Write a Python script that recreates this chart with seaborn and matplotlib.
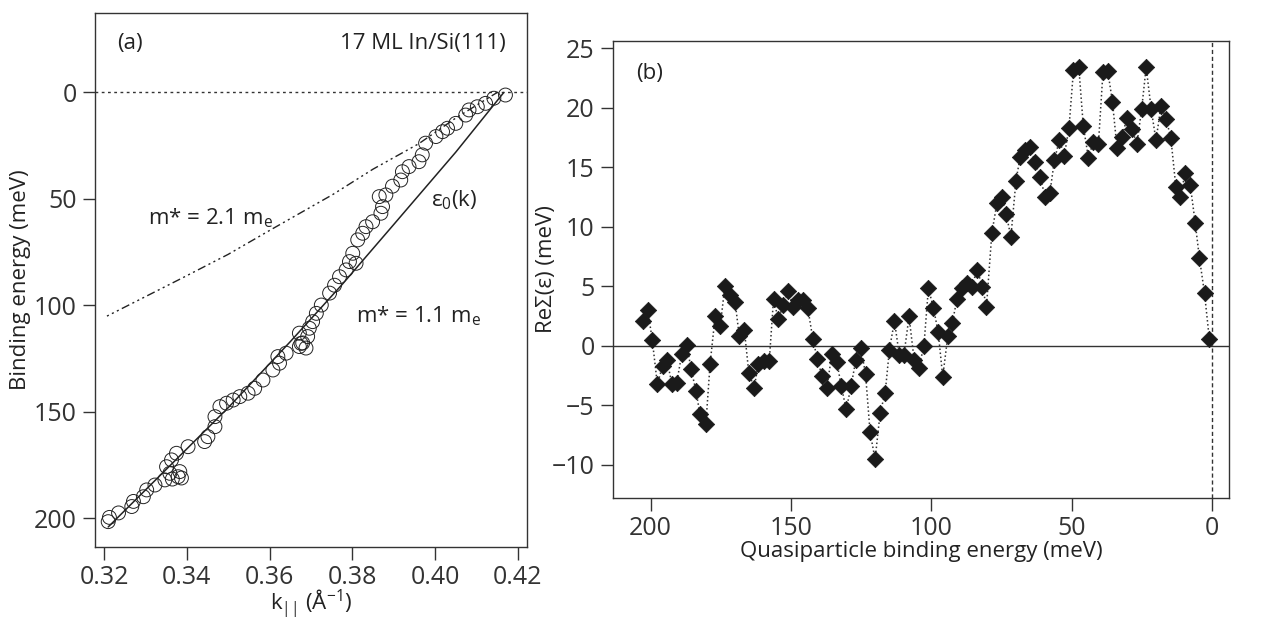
import numpy as np
import pandas as pd
import matplotlib
matplotlib.use("Agg")
import matplotlib.pyplot as plt
import seaborn as sns

# ---- panel (a): MDC peak positions, k (1/A) vs binding energy (meV)
k_peak = [0.3210, 0.3213, 0.3235, 0.3267, 0.3271, 0.3295, 0.3303, 0.3323, 0.3347, 0.3359,
          0.3351, 0.3363, 0.3375, 0.3379, 0.3365, 0.3383, 0.3387, 0.3403, 0.3443, 0.3451,
          0.3468, 0.3468, 0.3480, 0.3496, 0.3512, 0.3528, 0.3548, 0.3564, 0.3584, 0.3608,
          0.3624, 0.3620, 0.3640, 0.3672, 0.3676, 0.3692, 0.3672, 0.3680, 0.3688, 0.3696,
          0.3704, 0.3713, 0.3725, 0.3745, 0.3757, 0.3769, 0.3785, 0.3793, 0.3809, 0.3801,
          0.3813, 0.3825, 0.3833, 0.3849, 0.3869, 0.3873, 0.3865, 0.3881, 0.3897, 0.3917,
          0.3921, 0.3937, 0.3961, 0.3969, 0.3977, 0.4002, 0.4018, 0.4030, 0.4050, 0.4074,
          0.4082, 0.4102, 0.4122, 0.4142, 0.4170]
e_peak = [201.5, 199.5, 197.4, 194.4, 192.0, 189.8, 186.6, 184.3, 181.9, 178.8,
          175.7, 172.5, 169.4, 180.4, 181.5, 178.0, 181.0, 166.3, 163.9, 161.6,
          156.9, 152.2, 147.5, 145.9, 144.4, 142.8, 141.2, 138.9, 135.0, 130.3,
          127.1, 124.0, 122.4, 119.3, 117.8, 114.6, 113.0, 117.6, 120.0, 110.7,
          107.6, 103.7, 99.8, 94.2, 90.5, 86.5, 83.3, 79.4, 80.2, 75.5,
          69.2, 66.1, 63.0, 60.7, 56.7, 53.6, 48.9, 48.1, 44.0, 41.1,
          37.2, 34.8, 32.5, 29.3, 23.8, 20.7, 18.4, 16.8, 14.5, 10.6,
          8.2, 6.7, 5.1, 2.7, 1.2]

# bare band eps0(k), m* = 1.1 me
k_bare = [0.3210, 0.3350, 0.3500, 0.3650, 0.3776, 0.3900, 0.4050, 0.4166]
e_bare = [204, 177, 148, 117, 90, 62, 28, 0]

# m* = 2.1 me curve
k_heavy = [0.3207, 0.3390, 0.3500, 0.3607, 0.3752, 0.3850, 0.3961, 0.4050, 0.4150]
e_heavy = [105, 87, 76, 64, 48, 36, 24, 12, 0]

# ---- panel (b): real part of self energy
e_qp = [202.8, 201.0, 199.4, 197.6, 195.7, 194.2, 192.4, 190.7, 188.9, 187.1,
        185.6, 183.8, 182.4, 180.3, 178.8, 177.0, 175.2, 173.5, 171.7, 169.9,
        168.4, 166.6, 165.0, 163.1, 161.6, 159.6, 157.7, 156.2, 154.5, 152.7,
        150.9, 149.1, 147.3, 145.7, 144.0, 142.2, 140.6, 138.9, 137.2, 135.4,
        133.6, 132.1, 130.3, 128.5, 126.9, 125.1, 123.4, 121.8, 120.0, 118.2,
        116.4, 114.9, 113.1, 111.4, 109.7, 107.9, 106.1, 104.4, 102.6, 101.0,
        99.2, 97.5, 95.9, 94.1, 92.5, 90.8, 89.2, 87.4, 85.6, 83.6,
        81.8, 80.3, 78.4, 76.6, 74.8, 73.3, 71.6, 69.8, 68.3, 66.5,
        64.8, 63.0, 61.2, 59.4, 57.7, 56.1, 54.3, 52.6, 50.9, 49.3,
        47.4, 45.8, 44.0, 42.2, 40.4, 38.8, 37.1, 35.4, 33.8, 32.0,
        30.3, 28.5, 26.7, 25.0, 23.4, 21.6, 19.9, 18.1, 16.3, 14.6,
        12.8, 11.3, 9.5, 7.7, 5.9, 4.4, 2.6, 0.9]
re_sigma = [2.04, 2.96, 0.47, -3.24, -1.68, -1.17, -3.24, -3.13, -0.70, 0.08,
            -1.95, -3.83, -5.78, -6.56, -1.53, 2.46, 1.62, 5.05, 4.27, 3.71,
            0.78, 1.34, -2.29, -3.55, -1.51, -1.31, -1.26, 3.91, 2.23, 3.43,
            4.63, 3.24, 3.85, 3.85, 3.20, 0.59, -1.12, -2.57, -3.55, -0.70,
            -1.39, -3.35, -5.36, -3.35, -1.23, -0.20, -2.37, -7.26, -9.55, -5.64,
            -3.96, -0.34, 2.07, -0.75, -0.75, 2.46, -1.17, -1.87, 0.00, 4.83,
            3.16, 1.12, -2.62, 0.78, 1.90, 3.94, 4.83, 5.25, 4.97, 6.37,
            4.97, 3.29, 9.44, 11.95, 12.51, 11.06, 9.16, 13.85, 15.86, 16.42,
            16.69, 15.44, 14.18, 12.51, 12.84, 15.58, 17.31, 15.91, 18.32, 23.17,
            23.39, 18.45, 15.81, 17.12, 16.98, 22.97, 23.12, 20.46, 16.64, 17.53,
            19.12, 18.23, 16.92, 19.91, 23.39, 19.85, 17.25, 20.18, 19.07, 17.45,
            13.29, 12.51, 14.47, 13.54, 10.27, 7.33, 4.40, 0.59]

sns.set_theme(style="ticks")
plt.rcParams['font.family'] = ['Open Sans', 'DejaVu Sans']
plt.rcParams['mathtext.fontset'] = 'custom'
plt.rcParams['mathtext.rm'] = 'Open Sans'
plt.rcParams['mathtext.it'] = 'Open Sans:italic'
plt.rcParams['axes.edgecolor'] = '#333333'
plt.rcParams['axes.linewidth'] = 1.0
plt.rcParams['xtick.color'] = '#333333'
plt.rcParams['ytick.color'] = '#333333'
plt.rcParams['text.color'] = '#222222'
plt.rcParams['axes.labelcolor'] = '#222222'

fs_tick = 18
fs_lab = 16
fs_txt = 16

fig = plt.figure(figsize=(12.61, 6.26), dpi=100)
ax1 = fig.add_axes([0.0753, 0.1262, 0.3426, 0.853])
ax2 = fig.add_axes([0.4859, 0.2045, 0.4889, 0.730])

# ---- (a)
peaks = pd.DataFrame({'k': k_peak, 'E': e_peak})
bare = pd.DataFrame({'k': k_bare, 'E': e_bare})
heavy = pd.DataFrame({'k': k_heavy, 'E': e_heavy})

ax1.axhline(0, color='#333333', lw=1.0, ls=(0, (2, 2.5)))
sns.lineplot(data=bare, x='k', y='E', ax=ax1, color='#222222', lw=1.1, sort=False, estimator=None)
sns.lineplot(data=heavy, x='k', y='E', ax=ax1, color='#222222', lw=1.0, sort=False, estimator=None,
             linestyle=(0, (1.5, 2.5, 1.5, 2.5, 1.5, 2.5, 6, 2.5)))
sns.scatterplot(data=peaks, x='k', y='E', ax=ax1, marker='o', s=100, facecolor='none',
                edgecolor='#222222', linewidth=0.7, zorder=3)

ax1.set_xlim(0.3178, 0.4222)
ax1.set_ylim(213.4, -37.3)
ax1.set_xticks([0.32, 0.34, 0.36, 0.38, 0.40, 0.42])
ax1.set_xticklabels(['0.32', '0.34', '0.36', '0.38', '0.40', '0.42'])
ax1.set_yticks([0, 50, 100, 150, 200])
ax1.tick_params(axis='both', direction='out', length=9, width=1.0, labelsize=fs_tick, pad=4)
ax1.set_xlabel(r'k$_{||}$ (Å$^{-1}$)', fontsize=fs_lab)
ax1.set_ylabel('Binding energy (meV)', fontsize=fs_lab)
ax1.xaxis.set_label_coords(0.5, -0.105)
ax1.yaxis.set_label_coords(-0.172, 0.5)
ax1.xaxis.label.set_va('center')
ax1.yaxis.label.set_va('center')

ax1.text(0.3231, -23.2, '(a)', fontsize=fs_txt, ha='left', va='center')
ax1.text(0.4171, -23.2, '17 ML In/Si(111)', fontsize=fs_txt, ha='right', va='center')
ax1.text(0.3306, 59, r'm* = 2.1 m$_{\rm e}$', fontsize=fs_txt, ha='left', va='center')
ax1.text(0.3990, 50.5, r'ε$_{0}$(k)', fontsize=fs_txt, ha='left', va='center')
ax1.text(0.3810, 105, r'm* = 1.1 m$_{\rm e}$', fontsize=fs_txt, ha='left', va='center')

# ---- (b)
sigma = pd.DataFrame({'E': e_qp, 'ReS': re_sigma})
ax2.axhline(0, color='#333333', lw=1.0)
ax2.axvline(0, color='#333333', lw=1.0, ls=(0, (3, 2)))
sns.lineplot(data=sigma, x='E', y='ReS', ax=ax2, color='#333333', lw=1.1, ls=':',
             sort=False, estimator=None)
sns.scatterplot(data=sigma, x='E', y='ReS', ax=ax2, marker='D', s=70, color='#1a1a1a',
                edgecolor='#1a1a1a', linewidth=0.5, zorder=3)

ax2.set_xlim(213.5, -6.2)
ax2.set_ylim(-12.8, 25.6)
ax2.set_xticks([200, 150, 100, 50, 0])
ax2.set_yticks([-10, -5, 0, 5, 10, 15, 20, 25])
ax2.tick_params(axis='both', direction='out', length=9, width=1.0, labelsize=fs_tick, pad=4)
ax2.set_xlabel('Quasiparticle binding energy (meV)', fontsize=fs_lab)
ax2.set_ylabel('ReΣ(ε) (meV)', fontsize=fs_lab)
ax2.xaxis.set_label_coords(0.5, -0.117)
ax2.yaxis.set_label_coords(-0.108, 0.5)
ax2.xaxis.label.set_va('center')
ax2.yaxis.label.set_va('center')
ax2.text(205.2, 22.9, '(b)', fontsize=fs_txt, ha='left', va='center')

for ax in (ax1, ax2):
    for s in ax.spines.values():
        s.set_visible(True)

fig.savefig('out.png', dpi=100)
